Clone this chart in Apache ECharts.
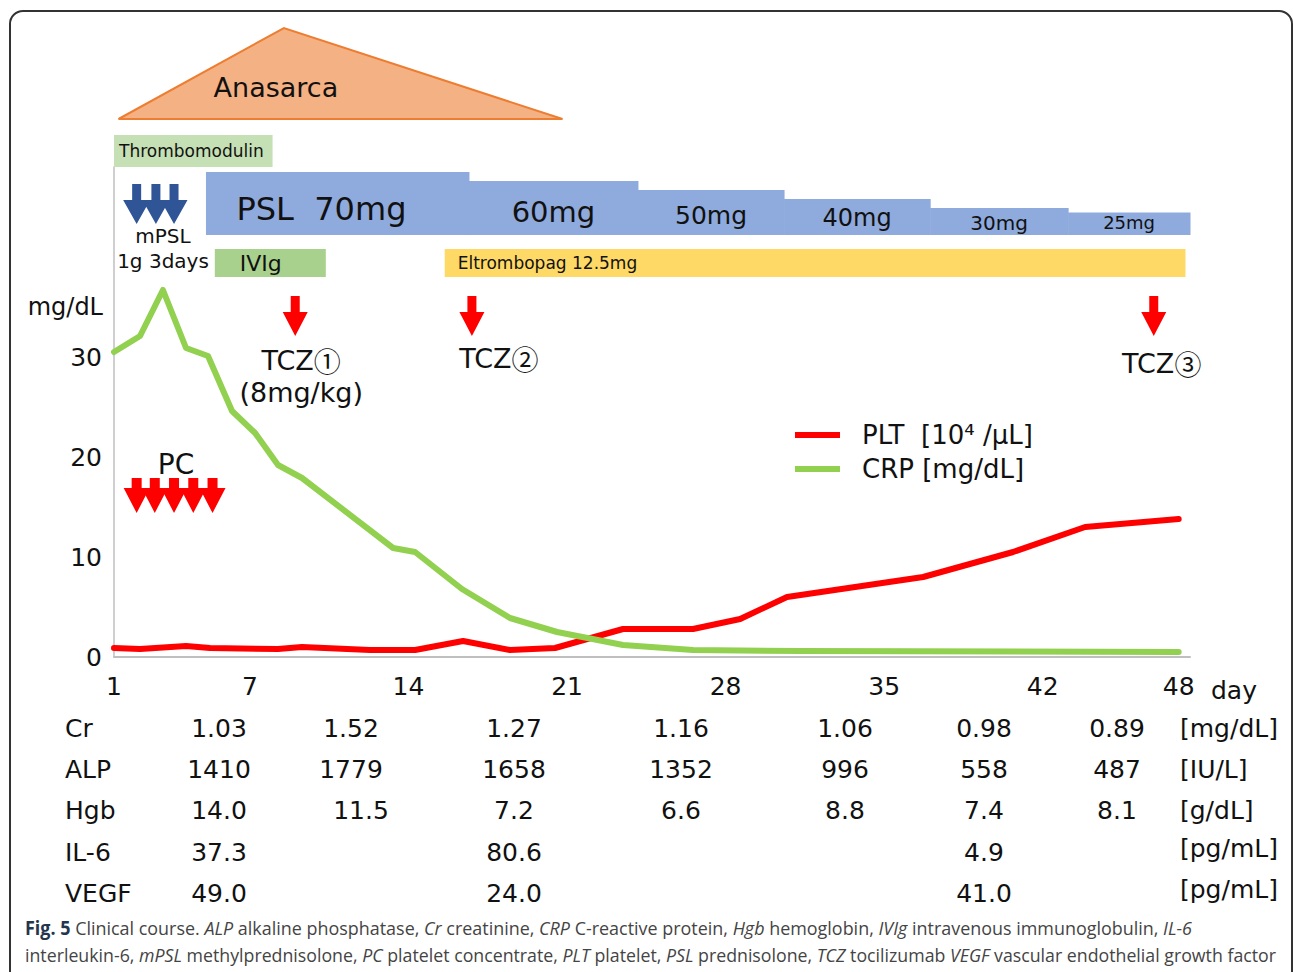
<!DOCTYPE html>
<html>
<head>
<meta charset="utf-8">
<script src="https://cdn.jsdelivr.net/npm/echarts@6/dist/echarts.min.js"></script>
<style>
  html, body { margin: 0; padding: 0; background: #fff; overflow: hidden; }
  #frame { position: absolute; left: 9px; top: 10px; width: 1284px; height: 1000px; border: 2px solid #333; border-radius: 14px; box-sizing: border-box; }
  #chart { position: absolute; left: 0; top: 0; width: 1293px; height: 972px; }
  .cap { position: absolute; left: 25px; white-space: nowrap; font-family: "Open Sans", "Noto Sans", sans-serif; font-size: 19px; line-height: 22px; color: #444; transform-origin: 0 0; }
  .cap b { color: #24364d; }
</style>
</head>
<body>
<div id="frame"></div>
<div id="chart"></div>
<div class="cap" id="cap1" style="top:917px"><b>Fig. 5</b> Clinical course. <i>ALP</i> alkaline phosphatase, <i>Cr</i> creatinine, <i>CRP</i> C-reactive protein, <i>Hgb</i> hemoglobin, <i>IVIg</i> intravenous immunoglobulin, <i>IL-6</i></div>
<div class="cap" id="cap2" style="top:944px">interleukin-6, <i>mPSL</i> methylprednisolone, <i>PC</i> platelet concentrate, <i>PLT</i> platelet, <i>PSL</i> prednisolone, <i>TCZ</i> tocilizumab <i>VEGF</i> vascular endothelial growth factor</div>
<script>
// ---- data (days since admission) ----
const pltName = 'PLT  [10⁴ /μL]';
const crpName = 'CRP [mg/dL]';

const pltDays   = [1.0, 2.15, 4.18, 5.24, 8.24, 9.3, 12.3, 14.29, 16.41, 18.48, 20.47, 23.47, 26.56, 28.64, 30.71, 36.72, 40.69, 43.87, 48.0];
const pltValues = [0.9, 0.8, 1.1, 0.9, 0.8, 1.0, 0.7, 0.7, 1.6, 0.7, 0.9, 2.8, 2.8, 3.8, 6.0, 8.0, 10.5, 13.0, 13.8];

const crpDays   = [1.0, 2.15, 3.16, 4.18, 5.15, 6.21, 7.23, 8.24, 9.3, 13.32, 14.29, 16.36, 18.48, 20.56, 23.47, 26.56, 31.3, 48.0];
const crpValues = [30.5, 32.1, 36.7, 30.9, 30.1, 24.6, 22.4, 19.2, 17.9, 10.9, 10.5, 6.8, 3.9, 2.5, 1.2, 0.7, 0.6, 0.5];

const xTicks = [1, 7, 14, 21, 28, 35, 42, 48];
const yTicks = [0, 10, 20, 30];

// anasarca: start, peak, end day
const anasarca = [1.2, 8.5, 20.8];
// treatments: [start, end]
const treatNames = ['Thrombomodulin', 'IVIg', 'Eltrombopag 12.5mg'];
const treatSpans = [[1.0, 8.0], [5.45, 10.35], [15.6, 48.3]];
// prednisolone steps: [start, end, dose mg]
const pslSteps = [[5.06, 16.67, 70], [16.67, 24.13, 60], [24.13, 30.58, 50], [30.58, 37.03, 40], [37.03, 43.12, 30], [43.12, 48.5, 25]];
const mpslDays = [2.0, 2.85, 3.65];
const pcDays = [2.0, 2.8, 3.65, 4.5, 5.35];
const tczDays = [9.0, 16.8, 46.9];
const tczLabels = ['TCZ{c|①}\n(8mg/kg)', 'TCZ{c|②}', 'TCZ{c|③}'];

// lab table
const labNames = ['Cr', 'ALP', 'Hgb', 'IL-6', 'VEGF'];
const labUnits = ['[mg/dL]', '[IU/L]', '[g/dL]', '[pg/mL]', '[pg/mL]'];
const labCr   = ['1.03', '1.52', '1.27', '1.16', '1.06', '0.98', '0.89'];
const labALP  = ['1410', '1779', '1658', '1352', '996', '558', '487'];
const labHgb  = ['14.0', '11.5', '7.2', '6.6', '8.8', '7.4', '8.1'];
const labIL6  = ['37.3', '', '80.6', '', '', '4.9', ''];
const labVEGF = ['49.0', '', '24.0', '', '', '41.0', ''];

// ---- chart ----
const FONT = 'DejaVu Sans, Verdana, sans-serif';
const chart = echarts.init(document.getElementById('chart'), null, { renderer: 'svg' });

function xAt(api, v) { return api.coord([v, 0])[0]; }

function downArrow(x, top, neck, tip, headW, shaftW, color) {
  return {
    type: 'polygon',
    shape: { points: [[x - shaftW / 2, top], [x + shaftW / 2, top], [x + shaftW / 2, neck], [x + headW / 2, neck], [x, tip], [x - headW / 2, neck], [x - shaftW / 2, neck]] },
    style: { fill: color }
  };
}

function txt(text, x, y, size, align, lineHeight) {
  const style = { text: text, x: x, y: y, fontSize: size, fontFamily: FONT, fill: '#111', align: align || 'center', verticalAlign: 'middle' };
  if (lineHeight) style.lineHeight = lineHeight;
  return { type: 'text', style: style };
}

// table texts
const colX = [219, 351, 514, 681, 845, 984, 1117];
const rowY = [728, 769, 810, 852, 893];
const labRows = [labCr, labALP, labHgb, labIL6, labVEGF];
const tableGraphics = [];
labRows.forEach((row, r) => {
  tableGraphics.push(txt(labNames[r], 65, rowY[r], 25, 'left'));
  row.forEach((v, c) => { if (v) tableGraphics.push(txt(v, colX[c] + (r === 2 && c === 1 ? 10 : 0), rowY[r], 25, 'center')); });
  tableGraphics.push(txt(labUnits[r], 1180, rowY[r] - (r >= 3 ? 4 : 0), 25, 'left'));
});

const bandStyle = [
  { y0: 135, y1: 167, fill: '#C5E0B4', dx: 5, size: 17 },
  { y0: 249, y1: 277, fill: '#A9D18E', dx: 25, size: 22 },
  { y0: 249, y1: 277, fill: '#FFD966', dx: 13, size: 17 }
];
const pslFont = [32, 29, 25, 24, 20, 18];
const pslDy = [5, 4, 3, 1, 1, -1];

const option = {
  animation: false,
  backgroundColor: 'transparent',
  grid: { left: 114, right: 103, top: 167, bottom: 315 },
  legend: {
    data: [pltName, crpName],
    orient: 'vertical',
    left: 790,
    top: 415,
    icon: 'rect',
    itemWidth: 45,
    itemHeight: 6,
    itemGap: 4,
    textStyle: { fontSize: 26, fontFamily: FONT, color: '#111', lineHeight: 30, padding: [0, 0, 0, 17] }
  },
  xAxis: {
    type: 'value', min: 1, max: 48.5,
    name: 'day', nameLocation: 'end', nameGap: 21,
    nameTextStyle: { fontSize: 25, fontFamily: FONT, color: '#111', verticalAlign: 'top', lineHeight: 25, padding: [21, 0, 0, 0] },
    axisLine: { show: true, lineStyle: { color: '#BFBFBF', width: 2 } },
    axisTick: { show: false },
    splitLine: { show: false },
    axisLabel: { customValues: xTicks, fontSize: 25, fontFamily: FONT, color: '#111', margin: 17 }
  },
  yAxis: {
    type: 'value', min: 0, max: 49,
    axisLine: { show: true, lineStyle: { color: '#BFBFBF', width: 1.5 } },
    axisTick: { show: false },
    splitLine: { show: false },
    axisLabel: { customValues: yTicks, fontSize: 25, fontFamily: FONT, color: '#111', margin: 12 }
  },
  graphic: [
    txt('mg/dL', 103, 307, 24, 'right'),
    txt('mPSL', 163, 236, 20, 'center'),
    txt('1g 3days', 163, 261, 20, 'center'),
    txt('PC', 176, 464, 28, 'center')
  ].concat(tableGraphics),
  series: [
    {
      name: pltName, type: 'line', symbol: 'none', z: 3,
      data: pltDays.map((d, i) => [d, pltValues[i]]),
      itemStyle: { color: '#FF0000' },
      lineStyle: { color: '#FF0000', width: 6, cap: 'round', join: 'round' }
    },
    {
      name: crpName, type: 'line', symbol: 'none', z: 4,
      data: crpDays.map((d, i) => [d, crpValues[i]]),
      itemStyle: { color: '#92D050' },
      lineStyle: { color: '#92D050', width: 6, cap: 'round', join: 'round' }
    },
    {
      name: 'Anasarca', type: 'custom', clip: false, silent: true,
      encode: { x: [0, 1, 2] },
      data: [anasarca],
      renderItem: (params, api) => {
        const x0 = xAt(api, api.value(0)), xp = xAt(api, api.value(1)), x1 = xAt(api, api.value(2));
        return {
          type: 'group', children: [
            { type: 'polygon', shape: { points: [[x0, 119], [xp, 28], [x1, 119]] }, style: { fill: '#F4B183', stroke: '#ED7D31', lineWidth: 2 } },
            txt('Anasarca', xp - 8, 87, 27, 'center')
          ]
        };
      }
    },
    {
      name: 'treatments', type: 'custom', clip: false, silent: true,
      encode: { x: [0, 1] },
      data: treatSpans,
      renderItem: (params, api) => {
        const s = bandStyle[params.dataIndex];
        const x0 = xAt(api, api.value(0)), x1 = xAt(api, api.value(1));
        return {
          type: 'group', children: [
            { type: 'rect', shape: { x: x0, y: s.y0, width: x1 - x0, height: s.y1 - s.y0 }, style: { fill: s.fill } },
            txt(treatNames[params.dataIndex], x0 + s.dx, (s.y0 + s.y1) / 2, s.size, 'left')
          ]
        };
      }
    },
    {
      name: 'PSL', type: 'custom', clip: false, silent: true,
      encode: { x: [0, 1] },
      data: pslSteps,
      renderItem: (params, api) => {
        const i = params.dataIndex;
        const x0 = xAt(api, api.value(0)), x1 = xAt(api, api.value(1));
        const dose = api.value(2);
        const h = dose * 0.9;
        const label = (i === 0 ? 'PSL  ' : '') + dose + 'mg';
        return {
          type: 'group', children: [
            { type: 'rect', shape: { x: x0, y: 235 - h, width: x1 - x0 + 0.5, height: h }, style: { fill: '#8FAADC' } },
            txt(label, (x0 + x1) / 2 + (i === 0 ? -16 : 0), 235 - h / 2 + pslDy[i], pslFont[i], 'center')
          ]
        };
      }
    },
    {
      name: 'mPSL', type: 'custom', clip: false, silent: true,
      encode: { x: 0 },
      data: mpslDays.map(d => [d]),
      renderItem: (params, api) => downArrow(xAt(api, api.value(0)), 184, 200, 224, 27, 9, '#2F5597')
    },
    {
      name: 'PC', type: 'custom', clip: false, silent: true,
      encode: { x: 0 },
      data: pcDays.map(d => [d]),
      renderItem: (params, api) => downArrow(xAt(api, api.value(0)), 478, 488, 513, 26, 10, '#FF0000')
    },
    {
      name: 'TCZ', type: 'custom', clip: false, silent: true,
      encode: { x: 0 },
      data: tczDays.map(d => [d]),
      renderItem: (params, api) => {
        const i = params.dataIndex;
        const x = xAt(api, api.value(0));
        const dx = [6, 27, 8][i];
        const ty = [376, 358, 363][i];
        const label = txt(tczLabels[i], x + dx, ty, 27, 'center', 32);
        label.style.rich = { c: { fontSize: 27, fontFamily: 'Noto Sans CJK JP', fill: '#111', lineHeight: 32 } };
        return {
          type: 'group', children: [
            downArrow(x, 296, 312, 336, 25, 9, '#FF0000'),
            label
          ]
        };
      }
    }
  ]
};
chart.setOption(option);

// fit caption lines to the printed widths
function fitCaption() {
  [['cap1', 1167], ['cap2', 1251]].forEach(([id, w]) => {
    const el = document.getElementById(id);
    el.style.transform = 'none';
    const cur = el.getBoundingClientRect().width;
    if (cur > 0) el.style.transform = 'scaleX(' + (w / cur) + ')';
  });
}
fitCaption();
if (document.fonts && document.fonts.ready) document.fonts.ready.then(fitCaption);
</script>
</body>
</html>
